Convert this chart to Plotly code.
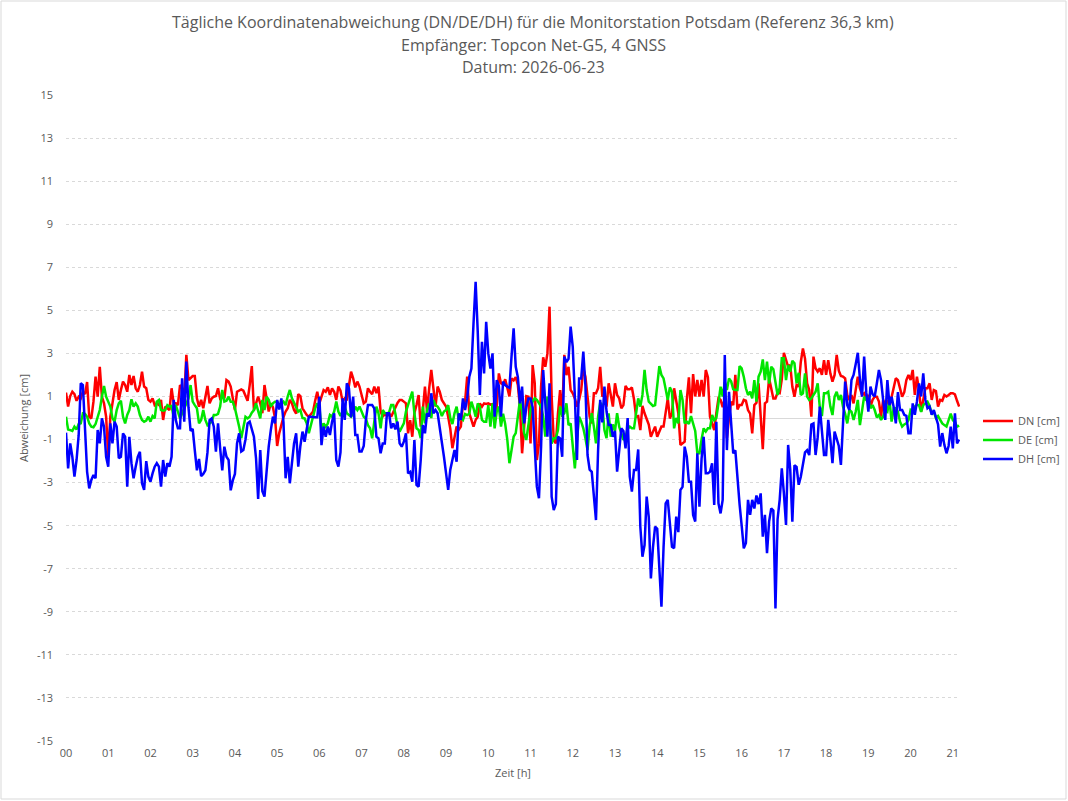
import plotly.graph_objects as go

# 3-minute samples starting at 00:00 (20 values per hour)
dn = [
 1.18, 0.53, 1.02, 1.22, 1.11, 0.80, 0.99, 0.91, 1.22, 1.11, 1.67, 0.06, -0.02, 0.76, 1.92, 0.99, 2.38, 0.99, 0.68, 0.06,
 -1.80, 0.06, 0.68, 1.30, 1.67, 0.84, 1.30, 1.69, 1.53, 1.22, 2.00, 1.53, 1.95, 1.38, 1.22, 1.53, 2.15, 1.46, 1.38, 0.84,
 0.76, 0.91, 0.60, 0.68, 0.60, 0.84, -0.09, 0.53, 0.45, 0.37, 1.38, 0.68, 0.68, 0.60, 1.53, 1.38, 0.90, 2.93, 1.76, 1.85,
 1.95, 1.95, 0.91, 0.53, 0.84, 0.45, 1.00, 1.49, 0.68, 0.91, 0.99, 1.02, 1.38, 0.91, 0.99, 0.91, 1.76, 1.69, 1.46, 0.99,
 0.37, 1.22, 1.27, 1.33, 1.27, 1.00, 0.80, 1.53, 2.41, 0.37, 0.68, 0.99, 0.68, 0.22, 1.53, 0.99, 0.30, 0.68, 0.50, 0.00,
 -1.30, -0.70, -0.30, 0.05, 0.30, 0.45, 0.84, 0.68, 0.37, 0.20, 1.11, 1.02, 0.45, 0.30, 0.14, 0.06, 0.19, 0.30, 0.80, 1.22,
 0.68, 1.00, 1.30, 1.22, 1.42, 1.07, 1.38, 1.22, 0.84, 1.46, 1.27, 0.76, 0.91, 0.87, 1.50, 2.15, 1.84, 1.42, 1.69, 1.46,
 1.07, 0.68, 0.76, 1.38, 1.22, 1.11, 1.46, 1.15, 1.46, 0.30, 0.06, 0.20, 0.10, 0.22, 0.06, 0.30, 0.53, 0.70, 0.84, 0.84,
 0.76, 0.68, -0.71, -0.10, -0.87, 0.22, 0.60, 1.07, -0.40, 0.37, 1.46, 0.30, 1.38, 2.23, 1.38, 0.53, 1.46, 1.22, 0.84, 0.68,
 0.53, 0.06, -0.50, -1.40, -0.90, -0.40, -0.55, -0.40, 0.68, 0.76, 1.92, 0.22, -0.09, -0.40, -0.09, 0.06, 0.68, 0.53, 0.68, 0.65,
 0.68, 0.62, 0.65, 0.06, 0.53, 2.07, 1.61, 1.55, 1.80, 1.38, 1.00, 1.84, 1.75, 1.90, 1.53, 0.50, -1.64, -0.40, 1.02, 0.99,
 -1.18, 2.46, 1.61, -1.95, -1.18, 1.46, 2.82, 2.38, 3.00, 5.17, 0.99, -1.02, -1.18, 0.22, 1.30, 0.06, 2.93, 1.99, 2.38, 1.30,
 1.15, 0.91, 0.53, 0.84, 1.30, 2.31, 1.92, 0.99, 0.06, -0.25, 1.15, 1.15, 1.38, 2.38, 0.99, 1.15, 0.53, 1.61, 1.15, 0.53,
 1.61, 1.07, 0.91, 0.45, 0.60, 1.49, 1.33, 1.33, 1.42, 0.87, 0.06, 0.09, -0.56, 0.56, 0.22, 0.00, -0.30, -0.87, -0.60, -0.40,
 -0.87, -0.64, -0.40, -0.40, 0.22, 0.91, -0.02, 0.22, 1.38, 0.84, 0.22, -1.25, -1.17, -1.10, 0.84, 1.89, 0.22, 2.04, 1.00, 1.77,
 1.00, 1.77, 1.00, 2.23, 1.90, 0.06, -0.25, -0.56, 0.22, 0.91, 0.85, 0.50, 0.90, -0.94, 0.00, 0.76, 0.60, 2.00, 0.40, 0.60,
 0.60, 0.84, 0.80, 0.37, 0.20, -0.71, 0.60, 0.71, 1.61, -0.10, -1.45, 0.68, 0.76, 1.84, 1.30, 0.91, 0.91, 1.18, 1.15, 1.80,
 3.03, 2.69, 2.38, 2.46, 1.45, 0.99, 1.53, 1.46, 2.60, 3.23, 2.76, 1.61, 1.30, 0.06, 2.85, 2.31, 2.15, 2.31, 2.00, 2.69,
 2.00, 2.69, 2.07, 1.69, 2.00, 2.93, 2.20, 1.95, 1.92, 1.84, 1.07, 0.84, 1.07, 0.68, 1.38, 1.92, 1.38, 1.07, 1.15, 0.90,
 1.07, 0.53, 0.84, 0.99, 0.99, 0.76, 0.06, 0.84, 0.60, 0.84, 0.53, 0.99, 1.30, 1.85, 1.76, 1.40, 0.99, 1.20, 1.76, 2.00,
 1.76, 2.23, 1.07, 1.92, 1.30, 0.30, 0.76, 1.38, 1.38, 1.61, 0.84, 1.30, 1.25, 0.53, 0.84, 0.80, 1.07, 1.00, 1.07, 1.15,
 1.15, 1.10, 0.80, 0.53,
]

de = [
 0.06, -0.53, -0.56, -0.60, -0.40, -0.53, -0.28, -0.25, 0.22, 0.19, 0.06, -0.25, -0.40, -0.43, -0.28, 0.06, 0.37, 0.99, 1.49, 0.99,
 0.76, 0.53, 0.00, -0.17, 0.37, 0.68, 0.80, 0.06, -0.25, 0.14, 0.37, 0.87, 0.53, 0.68, 0.53, 0.14, -0.09, -0.17, -0.12, 0.06,
 -0.17, 0.09, -0.02, 0.76, 0.84, 0.37, 0.34, 0.37, 0.60, 0.53, 0.56, 0.03, 0.60, 0.30, -0.02, 0.22, 0.45, 0.60, 0.90, 1.53,
 0.76, 0.60, 0.45, -0.25, -0.09, 0.37, -0.09, -0.33, -0.25, -0.17, 0.14, 0.14, 0.19, 0.53, 1.30, 0.76, 0.80, 0.99, 0.76, 0.76,
 0.45, 0.06, -0.40, -0.94, -0.40, 0.06, -0.02, 0.06, 0.25, 0.37, 0.68, 0.30, -0.02, 0.84, 0.37, 0.99, 0.84, 0.53, 0.68, 0.76,
 0.76, 0.53, 0.68, 0.76, 0.60, 1.00, 1.30, 0.91, 0.68, 0.53, 0.30, 0.37, 0.00, -0.02, -0.25, -0.71, -0.25, 0.06, 0.45, 0.68,
 0.53, -0.56, -0.25, -0.40, -0.25, 0.14, 0.06, 0.30, 0.76, 0.30, 0.09, 0.29, 0.53, 0.22, 0.14, 0.06, 0.22, 0.53, 0.37, 0.53,
 0.30, 0.06, -0.02, -0.33, -0.48, -0.94, -0.17, 0.53, 0.22, -0.48, 0.37, 0.22, 0.22, 0.25, 0.60, 0.60, 0.20, -0.40, -0.63, -0.40,
 -0.25, 0.30, 0.60, 0.84, 1.22, 0.22, -0.48, -0.56, -0.94, 0.53, -0.25, 0.37, 0.68, 0.00, 0.84, 0.60, 0.53, 0.37, 0.09, 0.30,
 0.37, 0.60, 0.00, -0.28, 0.22, 0.53, -0.09, 0.00, -0.09, 0.19, 0.14, 0.20, 0.76, 0.45, 0.06, 0.68, 0.53, -0.09, -0.17, -0.17,
 0.60, -0.40, 0.68, -0.48, 0.30, 0.53, -0.40, 0.20, -0.28, -1.00, -2.10, -1.50, -0.87, -0.70, 0.06, 0.84, 0.30, -0.71, -1.02, -0.25,
 0.37, 0.76, 0.91, 0.84, 0.68, 0.53, 0.06, -0.87, 0.99, -0.02, -1.18, -0.94, -0.94, -0.56, 0.53, 0.14, 0.22, 0.68, -0.33, -0.25,
 -1.33, -2.34, -1.02, 0.06, -0.17, -0.48, -0.94, -1.49, -0.40, 0.22, -0.40, -1.18, 0.06, 0.71, 0.60, -0.56, -0.94, 0.22, -0.87, -0.30,
 -0.60, 0.22, -0.40, -0.70, -1.02, -0.87, -0.50, -0.40, -0.48, -0.48, 0.22, 0.91, 0.53, 1.07, 2.23, 1.30, 0.76, 0.68, 0.56, 0.60,
 1.69, 2.41, 2.00, 1.84, 1.35, 0.84, 1.42, 1.22, -0.48, 0.00, -0.25, 1.30, 0.84, -0.25, -0.17, -0.28, 0.09, -0.33, -0.60, -1.64,
 -1.64, -1.00, -0.48, -0.63, -0.48, -0.48, 0.14, -0.10, 0.00, 0.68, 1.45, 1.00, 1.68, 1.30, 1.84, 1.70, 1.33, 1.30, 1.30, 2.41,
 2.30, 1.91, 1.38, 1.07, 1.22, 0.91, 1.76, 0.76, 1.92, 2.15, 2.72, 1.76, 2.62, 1.60, 2.38, 2.26, 1.61, 1.07, 1.40, 2.77,
 2.77, 1.76, 2.46, 2.15, 2.66, 2.54, 1.61, 2.10, 1.07, 1.15, 2.07, 0.99, 0.84, 0.91, 1.07, 1.22, 1.61, 0.50, 0.09, 1.15,
 1.15, 1.22, 0.53, 0.14, 0.99, 1.22, 0.84, 1.07, 0.53, 0.20, -0.25, 0.37, 0.29, -0.09, 0.29, 0.84, -0.33, 0.37, 0.99, 0.84,
 0.84, 0.45, 0.60, 0.37, 0.03, 0.14, -0.09, 0.06, 0.37, 0.29, 0.84, -0.17, 0.45, 0.45, 0.29, -0.17, -0.40, -0.30, -0.25, -0.10,
 0.37, 0.29, 0.53, 0.60, 0.60, 0.29, 0.60, 0.68, 0.76, 0.56, 0.22, 0.29, 0.00, 0.09, -0.12, -0.25, -0.33, -0.40, -0.10, 0.20,
 -0.10, -0.20, -0.40, -0.35,
]

dh = [
 -0.68, -2.34, -1.18, -1.80, -2.72, -1.95, -0.80, 1.61, 1.53, -0.20, -2.50, -3.27, -2.88, -2.65, -2.80, -0.56, -1.18, -0.02, -0.40, -1.80,
 -2.26, -0.25, -1.18, -0.17, -0.40, -1.87, -1.80, -0.71, -0.87, -3.19, -0.87, -2.10, -2.80, -2.26, -1.80, -1.57, -3.03, -3.34, -2.00, -2.72,
 -2.96, -2.57, -2.26, -2.10, -2.26, -3.19, -1.95, -2.72, -2.10, -2.26, -1.80, 0.84, -0.10, -0.48, -0.48, 1.84, -0.17, 2.62, 0.50, -0.60,
 -0.50, -1.50, -2.43, -1.90, -2.70, -2.60, -2.43, -1.60, -0.10, -0.02, -0.40, -1.56, -0.25, -1.40, -2.43, -1.33, -1.80, -1.95, -3.36, -2.90,
 -2.60, -1.18, -0.71, -1.56, -1.49, -1.00, -0.25, -0.17, -0.48, -0.87, -1.87, -3.76, -1.49, -3.40, -3.65, -2.34, -1.33, -0.56, 0.06, -0.25,
 0.84, 0.40, 0.91, -0.20, -2.80, -1.80, -3.03, -2.10, -1.18, -0.71, -2.26, -1.30, -0.63, -1.10, -0.50, 0.06, 0.06, 0.03, 0.03, 0.03,
 0.99, -1.26, -0.40, -0.87, -0.40, -0.79, -0.17, 0.22, -1.95, -2.26, -1.60, 0.91, -0.09, 1.61, 1.38, 0.03, 0.99, -0.79, -0.79, -1.56,
 -1.56, -1.30, -0.10, 0.60, 0.60, 0.60, 0.45, -0.87, -0.95, -1.64, -1.18, -1.18, 0.22, 0.22, -0.48, -0.25, -0.53, -0.17, -1.18, -1.33,
 -1.10, -0.71, -2.57, -2.50, -2.96, -1.02, -3.11, -3.19, -1.95, -0.33, -0.71, 0.22, 0.06, 1.15, 0.22, 0.37, 0.22, -0.40, -1.02, -1.80,
 -2.57, -3.34, -2.40, -1.95, -1.49, -2.03, 0.22, -0.09, 0.91, 0.37, 0.91, 1.92, 2.30, 4.40, 6.33, 4.00, 1.07, 3.54, 2.07, 4.47,
 3.00, 2.30, 3.00, 0.06, 1.76, 1.50, 0.06, 1.69, 1.53, 1.45, 1.40, 2.85, 4.16, 2.38, 1.90, 0.68, 1.46, -0.25, 0.50, 0.91,
 0.91, 0.50, -1.18, -3.19, -3.73, -1.33, 2.23, 0.50, -0.87, 1.61, -3.65, -4.27, -4.00, -0.87, -0.95, -1.80, 2.85, 2.60, 2.75, 4.24,
 3.30, 1.00, -1.95, 1.84, 1.84, 3.08, 1.50, -1.72, -2.40, -2.50, -3.60, -4.74, -1.50, 0.84, -0.20, 1.46, 0.30, -0.33, -0.33, -0.87,
 -0.60, -2.49, -1.50, -0.48, -0.60, -1.41, 0.00, -2.72, -3.42, -2.41, -2.41, -1.46, -5.05, -6.44, -5.90, -3.65, -4.60, -7.45, -6.00, -5.05,
 -5.15, -7.00, -8.76, -6.00, -3.96, -3.80, -5.05, -5.98, -6.05, -4.58, -5.30, -3.34, -3.20, -1.33, -1.80, -2.96, -2.96, -4.50, -4.81, -1.64,
 -4.12, -1.90, -0.87, -2.57, -2.57, -2.50, -2.10, -4.04, -0.17, -3.96, -4.43, -3.80, 2.93, -1.49, 1.22, -0.30, -1.64, -1.50, -2.88, -4.00,
 -5.00, -6.05, -5.80, -3.80, -4.50, -3.80, -4.20, -3.60, -4.00, -3.50, -5.51, -4.50, -6.28, -4.80, -4.20, -4.30, -8.84, -4.70, -3.80, -2.34,
 -3.50, -4.97, -1.25, -2.40, -4.81, -2.20, -2.27, -3.10, -2.73, -2.10, -1.60, -1.50, -1.72, -0.30, -0.25, -1.72, -0.90, 0.53, -0.50, -1.72,
 -1.72, -0.09, -1.00, -2.10, -0.63, -1.00, -1.30, -2.18, -0.50, 1.69, 0.60, 0.37, 1.76, 2.00, 2.50, 3.03, 1.80, 0.99, 2.85, 1.20,
 0.30, 1.46, 1.10, 1.00, 1.60, 2.23, 1.76, 0.90, -0.09, 1.76, 0.60, 0.99, 0.50, -0.25, 1.20, 0.37, 0.37, 0.15, 0.10, -0.71,
 -0.71, 0.68, 0.15, 0.76, 1.61, 1.00, 2.07, 0.85, 0.45, 0.53, 0.15, 0.37, 0.00, -0.30, -1.33, -0.70, -1.25, -1.64, -1.30, -0.40,
 -1.41, 0.22, -1.18, -1.00,
]

series_names = ["DN [cm]", "DE [cm]", "DH [cm]"]
series_colors = ["#ff0000", "#00e600", "#0000ff"]
hour_ticks = list(range(0, 22))
hour_labels = [f"{h:02d}" for h in hour_ticks]
y_ticks = list(range(-15, 16, 2))
y_labels = [str(v) for v in y_ticks]
title_lines = [
    "Tägliche Koordinatenabweichung (DN/DE/DH) für die Monitorstation Potsdam (Referenz 36,3 km)",
    "Empfänger: Topcon Net-G5, 4 GNSS",
    "Datum: 2026-06-23",
]

STEP_H = 3 / 60.0  # 3-minute sampling

fig = go.Figure()
for name, vals, col in zip(series_names, [dn, de, dh], series_colors):
    xs = [i * STEP_H for i in range(len(vals))]
    fig.add_trace(go.Scatter(x=xs, y=vals, mode="lines", name=name,
                             line=dict(color=col, width=2.5)))

gray = "#595959"
L, R, T, B = 66, 108, 95, 60
PW, PH = 1068 - L - R, 801 - T - B

fig.update_layout(
    width=1068, height=801,
    paper_bgcolor="white", plot_bgcolor="white",
    margin=dict(l=L, r=R, t=T, b=B, autoexpand=False),
    font=dict(family="Open Sans, sans-serif", size=11, color=gray),
    legend=dict(xref="container", yref="container",
                x=978 / 1068, xanchor="left", y=1 - 440 / 801, yanchor="middle",
                font=dict(size=11, color=gray), bgcolor="rgba(0,0,0,0)"),
    showlegend=True,
)
# title lines, centred above the plot
for i, (txt, py) in enumerate(zip(title_lines, [22, 45, 67])):
    fig.add_annotation(text=txt, xref="paper", yref="paper",
                       x=(533 - L) / PW, y=(801 - B - py) / PH,
                       xanchor="center", yanchor="middle", showarrow=False,
                       font=dict(family="Open Sans, sans-serif", size=16, color=gray))

fig.update_xaxes(
    range=[0, 21.17], tickmode="array", tickvals=hour_ticks, ticktext=hour_labels,
    showgrid=False, zeroline=False, showline=False, ticks="",
    ticklabelstandoff=4,
    tickfont=dict(size=11, color=gray),
    title=dict(text="Zeit [h]", font=dict(size=11, color=gray), standoff=10),
)
fig.update_yaxes(
    range=[-15, 15], tickmode="array", tickvals=y_ticks, ticktext=y_labels,
    showgrid=True, gridcolor="#d9d9d9", griddash="dot", gridwidth=1,
    zeroline=True, zerolinecolor="#d9d9d9", zerolinewidth=1.3,
    showline=False, ticks="", ticklabelstandoff=12,
    tickfont=dict(size=11, color=gray),
    title=dict(text="Abweichung [cm]", font=dict(size=11, color=gray), standoff=6),
)
# light outer frame around the whole chart area
fig.add_shape(type="rect", xref="paper", yref="paper",
              x0=(1 - L) / PW, x1=(1066 - L) / PW,
              y0=(801 - B - 799) / PH, y1=(801 - B - 1) / PH,
              line=dict(color="#d9d9d9", width=1), layer="below")

fig.write_html("out.html")
